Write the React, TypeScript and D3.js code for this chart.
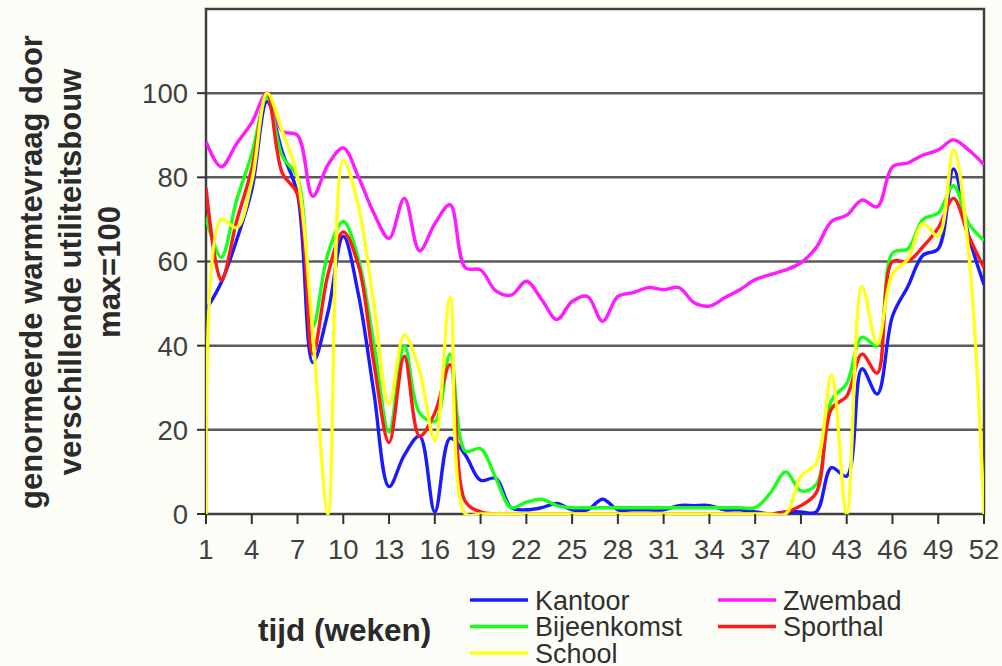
import React from "react";
import * as d3 from "d3";

const weeks = [
  1, 2, 3, 4, 5, 6, 7, 8, 9, 10, 11, 12, 13, 14, 15, 16, 17, 18, 19, 20, 21, 22, 23, 24, 25, 26,
  27, 28, 29, 30, 31, 32, 33, 34, 35, 36, 37, 38, 39, 40, 41, 42, 43, 44, 45, 46, 47, 48, 49, 50, 51, 52,
];

const kantoor = [
  48.5, 55, 65, 77, 98, 86, 76, 36, 48, 66, 52, 29, 6.5, 14, 18.5, 0.5, 18, 14, 8, 8.5, 1.5, 1, 1.5, 2.5, 1, 1,
  3.5, 1, 1, 1, 1, 2, 2, 2, 1, 1, 0.5, 0, 0.5, 0.5, 0.5, 11, 9, 34.5, 28.5, 47, 54, 61.5, 63, 82, 66, 54.5,
];
const zwembad = [
  88.5, 82.5, 88, 93, 100, 91, 90, 75.5, 83, 87, 80, 71.5, 65.5, 75, 62.5, 69, 73.5, 58.5, 58, 53, 52, 55.3, 51, 46.2, 50.5, 51.7,
  45.8, 51.7, 52.6, 53.8, 53.3, 53.8, 50.2, 49.4, 51.4, 53.3, 55.7, 56.9, 58, 59.7, 63.3, 69.5, 71, 74.6, 73, 82.5, 83.4, 85.3, 86.5, 88.9, 86.5, 83,
];
const bijeenkomst = [
  70.5, 61, 74.5, 85.5, 99, 85, 80, 44.5, 62, 69.5, 60.5, 40.5, 19.5, 40, 24, 22, 38, 15, 15.5, 8.5, 1.5, 2.8, 3.5, 2, 1.5, 1.5,
  1.5, 1.5, 1.5, 1.5, 1.5, 1.5, 1.5, 1.5, 1.5, 1.5, 1.5, 5, 10, 5.5, 7, 27, 31, 42, 40, 62, 63, 70, 71.5, 78, 69, 65,
];
const sporthal = [
  77.5, 55.5, 69.5, 82, 100, 81, 76, 38, 57, 67, 59, 36, 17, 37.5, 18.5, 24, 35.5, 3, 0.5, 0, 0, 0, 0, 0, 0, 0,
  0, 0, 0, 0, 0, 0, 0, 0, 0, 0, 0, 0, 0.5, 2, 5, 25, 28, 38, 33.5, 60, 60, 63.5, 68, 75, 66, 58.5,
];
const school = [
  0, 70, 68, 79, 100, 91, 80, 43, 0, 84, 73, 50, 26, 42.5, 34, 17.5, 51.5, 0, 0, 0, 0, 0, 0, 0, 0, 0,
  0, 0, 0, 0, 0, 0, 0, 0, 0, 0, 0, 0, 0, 9, 12, 33, 0, 54, 40.5, 57, 60.5, 69, 66, 86.5, 62, 0,
];

const seriesNames = ["Kantoor", "Zwembad", "Bijeenkomst", "Sporthal", "School"];
const seriesColors = ["#1a1aff", "#ff1aff", "#1aff1a", "#ff1a1a", "#ffff1a"];
const seriesValues = [kantoor, zwembad, bijeenkomst, sporthal, school];

const xTickLabels = [1, 4, 7, 10, 13, 16, 19, 22, 25, 28, 31, 34, 37, 40, 43, 46, 49, 52];
const yTickLabels = [0, 20, 40, 60, 80, 100];
const yTitleLines = ["genormeerde warmtevraag door", "verschillende utiliteitsbouw", "max=100"];
const xTitle = "tijd (weken)";

const W = 1002;
const H = 666;
const left = 206;
const right = 984;
const top = 9;
const bottom = 514;

export default function App() {
  const x = d3.scaleLinear().domain([1, 52]).range([left, right]);
  const y = d3.scaleLinear().domain([0, 120]).range([bottom, top]);
  const line = d3
    .line<number>()
    .x((_, i) => x(weeks[i]))
    .y((d) => y(d))
    .curve(d3.curveCatmullRom.alpha(0.5));

  const font = "'Liberation Sans', Arial, sans-serif";
  const legendRows = [
    [0, 1],
    [2, 3],
    [4],
  ];

  return (
    <svg
      width={W}
      height={H}
      style={{ position: "absolute", left: 0, top: 0, background: "#fdfdf7" }}
      fontFamily={font}
    >
      <rect x={0} y={0} width={W} height={H} fill="#fdfdf7" />
      <defs>
        <clipPath id="plotclip">
          <rect x={left} y={top} width={right - left} height={bottom - top + 1} />
        </clipPath>
      </defs>
      <rect x={left} y={top} width={right - left} height={bottom - top} fill="#ffffff" />
      {[20, 40, 60, 80, 100].map((v) => (
        <line key={v} x1={left} x2={right} y1={y(v)} y2={y(v)} stroke="#5a5a5a" strokeWidth={2.5} />
      ))}
      <rect x={left} y={top} width={right - left} height={bottom - top} fill="none" stroke="#404040" strokeWidth={2.5} />
      <g clipPath="url(#plotclip)">
        {seriesValues.map((vals, k) => (
          <path
            key={seriesNames[k]}
            d={line(vals) || ""}
            fill="none"
            stroke={seriesColors[k]}
            strokeWidth={3.4}
            strokeLinejoin="round"
          />
        ))}
      </g>
      {/* y axis ticks & labels */}
      {yTickLabels.map((v) => (
        <g key={v}>
          <line x1={left - 9} x2={left} y1={y(v)} y2={y(v)} stroke="#303030" strokeWidth={2} />
          <text x={188} y={y(v)} dy="0.36em" textAnchor="end" fontSize={27.5} fill="#404040">
            {v}
          </text>
        </g>
      ))}
      {/* x axis ticks & labels */}
      {xTickLabels.map((w) => (
        <g key={w}>
          <line x1={x(w)} x2={x(w)} y1={bottom} y2={bottom + 10} stroke="#303030" strokeWidth={2} />
          <text x={x(w)} y={549} dy="0.36em" textAnchor="middle" fontSize={27.5} fill="#404040">
            {w}
          </text>
        </g>
      ))}
      {/* y title */}
      {yTitleLines.map((t, i) => (
        <text
          key={t}
          transform={`translate(${31 + i * 39},272) rotate(-90)`}
          dy="0.36em"
          textAnchor="middle"
          fontSize={31}
          fontWeight="bold"
          fill="#2a2a2a"
        >
          {t}
        </text>
      ))}
      {/* x title */}
      <text x={258} y={630} dy="0.36em" fontSize={31.5} fontWeight="bold" fill="#2a2a2a">
        {xTitle}
      </text>
      {/* legend */}
      {legendRows.map((row, r) =>
        row.map((k, c) => {
          const lx = 470 + c * 248;
          const ly = 600 + r * 26.5;
          return (
            <g key={seriesNames[k]}>
              <line x1={lx} x2={lx + 58} y1={ly} y2={ly} stroke={seriesColors[k]} strokeWidth={3.6} />
              <text x={lx + 65} y={ly} dy="0.36em" fontSize={27} fill="#303030">
                {seriesNames[k]}
              </text>
            </g>
          );
        })
      )}
    </svg>
  );
}
